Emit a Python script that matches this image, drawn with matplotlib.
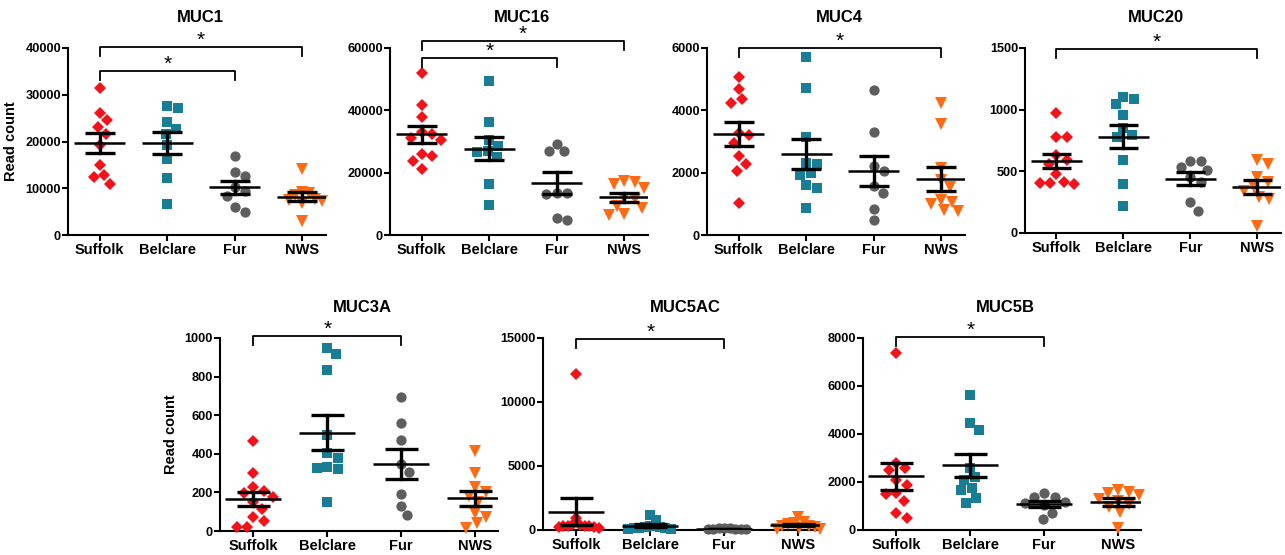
import matplotlib
matplotlib.use("Agg")
import matplotlib.pyplot as plt
import numpy as np

plt.rcParams['font.family'] = ['Liberation Sans', 'DejaVu Sans']
plt.rcParams['font.weight'] = 'bold'

groups = ["Suffolk", "Belclare", "Fur", "NWS"]
colors = ["#f2121a", "#1a7d96", "#5e5e5e", "#ff6a12"]
markers = ["D", "s", "o", "v"]
msizes = [6.0, 6.8, 7.4, 8.0]

# read counts per breed (Suffolk, Belclare, Fur, NWS)
muc1 = [
    [31500, 26100, 24500, 23200, 21500, 19300, 14900, 12800, 12300, 10900],
    [27600, 27100, 24200, 22700, 21700, 19200, 16200, 12200, 6600],
    [16800, 13500, 12700, 10200, 9500, 8400, 5900, 5000],
    [14100, 9300, 9000, 8600, 7800, 7400, 7200, 6900, 3100],
]
muc16 = [
    [52000, 41600, 37900, 32900, 32500, 31200, 30500, 26000, 25500, 23900, 21200],
    [49400, 36100, 30500, 28500, 27100, 26500, 25000, 16500, 9600],
    [29200, 26800, 26800, 13500, 13500, 13000, 4800, 5300],
    [17200, 17000, 16500, 15200, 11800, 11500, 9200, 8800, 6800, 6500],
]
muc4 = [
    [5060, 4680, 4350, 4230, 3270, 3220, 2950, 2520, 2280, 2060, 1020],
    [5710, 4720, 3160, 2300, 2270, 1980, 1930, 1610, 1500, 860],
    [4640, 3320, 2200, 2040, 1580, 1360, 830, 480],
    [4230, 3570, 2140, 1770, 1550, 1130, 1070, 1000, 800, 780],
]
muc20 = [
    [970, 775, 780, 630, 590, 562, 480, 405, 400, 405, 413],
    [1106, 1087, 1046, 957, 848, 793, 775, 590, 400, 215],
    [584, 584, 535, 508, 454, 413, 250, 182],
    [595, 562, 454, 413, 372, 340, 291, 272, 60],
]
muc3a = [
    [464, 299, 226, 209, 197, 174, 148, 113, 70, 52, 23, 23],
    [948, 917, 835, 496, 403, 377, 330, 322, 325, 148],
    [696, 557, 470, 348, 308, 191, 127, 82],
    [413, 300, 228, 200, 180, 150, 94, 73, 40, 16],
]
muc5ac = [
    [12180, 900, 420, 380, 350, 320, 300, 280, 250, 220, 180],
    [1170, 800, 300, 250, 220, 180, 150, 120, 100, 80],
    [150, 130, 120, 100, 90, 80, 60, 50],
    [1000, 600, 550, 450, 350, 300, 200, 150, 100, 80],
]
muc5b = [
    [7370, 2810, 2570, 2500, 2090, 1880, 1530, 1500, 1220, 695, 487],
    [5620, 4450, 4170, 2600, 2200, 2100, 1750, 1650, 1350, 1140],
    [1530, 1390, 1390, 1180, 1110, 1040, 695, 445],
    [1650, 1600, 1550, 1450, 1300, 1200, 1100, 950, 750, 80],
]

# (title, data, yticks, brackets [(to group, bracket y)], axes px (left, top, bottom), group spacing px, y label)
panels = [
    ("MUC1", muc1, [0, 10000, 20000, 30000, 40000], [(3, 40300), (2, 35000)], (68, 48, 235), 67.5, True),
    ("MUC16", muc16, [0, 20000, 40000, 60000], [(3, 62100), (2, 56800)], (390, 48, 235), 67.5, False),
    ("MUC4", muc4, [0, 2000, 4000, 6000], [(3, 6000)], (707, 48, 235), 67.5, False),
    ("MUC20", muc20, [0, 500, 1000, 1500], [(3, 1490)], (1025, 48, 233), 67.0, False),
    ("MUC3A", muc3a, [0, 200, 400, 600, 800, 1000], [(2, 1010)], (220, 338, 531), 74.0, True),
    ("MUC5AC", muc5ac, [0, 5000, 10000, 15000], [(2, 14900)], (543, 338, 530), 74.0, False),
    ("MUC5B", muc5b, [0, 2000, 4000, 6000, 8000], [(2, 8030)], (863, 338, 530), 74.0, False),
]

W, H = 1285, 555
fig = plt.figure(figsize=(W / 100, H / 100), dpi=100)


def swarm_offsets(ax, vals, center, dist=10.5, step=1.5, cap=0.3):
    vals = np.asarray(vals, dtype=float)
    pts = ax.transData.transform(np.column_stack([np.full(len(vals), center), vals]))
    ys = pts[:, 1]
    unit = ax.transData.transform((1, 0))[0] - ax.transData.transform((0, 0))[0]
    placed = []
    offs = np.zeros(len(vals))
    for i in np.argsort(-vals):
        k = 0
        while True:
            cands = [0.0] if k == 0 else [k * step, -k * step]
            ok = None
            for c in cands:
                if all((c - px) ** 2 + (ys[i] - py) ** 2 >= dist ** 2 for px, py in placed):
                    ok = c
                    break
            if ok is not None:
                placed.append((ok, ys[i]))
                offs[i] = ok / unit
                break
            k += 1
    big = np.abs(offs).max()
    if big > cap:
        offs = offs * cap / big
    return offs


for title, data, yticks, brackets, (left, top, bottom), sp, ylab in panels:
    xl = (-(0.47 if top < 100 else 0.45), 3.35 if top < 100 else 3.3)
    width = (xl[1] - xl[0]) * sp
    ax = fig.add_axes([left / W, 1 - bottom / H, width / W, (bottom - top) / H])
    ax.set_xlim(*xl)
    ymax = yticks[-1]
    ax.set_ylim(0, ymax)
    ax.set_yticks(yticks)
    ax.set_yticklabels([str(t) for t in yticks], fontsize=9.2, fontweight='bold')
    ax.set_xticks(range(4))
    ax.set_xticklabels(groups, fontsize=10.5, fontweight='bold')
    for s in ["top", "right"]:
        ax.spines[s].set_visible(False)
    for s in ["left", "bottom"]:
        ax.spines[s].set_linewidth(1.5)
    ax.tick_params(axis='y', length=4, width=1.5, pad=1)
    ax.tick_params(axis='x', length=4, width=1.5, pad=2)
    if ylab:
        ax.set_ylabel("Read count", fontsize=10.5, fontweight='bold', labelpad=5)

    for g, vals in enumerate(data):
        offs = swarm_offsets(ax, vals, g)
        ax.plot(g + offs, vals, linestyle='none', marker=markers[g], markersize=msizes[g],
                color=colors[g], markeredgewidth=0, clip_on=False, zorder=3)
        m = np.mean(vals)
        sem = np.std(vals, ddof=1) / np.sqrt(len(vals))
        ax.plot([g - 0.38, g + 0.38], [m, m], color='black', lw=1.8, zorder=4, solid_capstyle='butt')
        ax.plot([g, g], [m - sem, m + sem], color='black', lw=2.4, zorder=4)
        for yy in (m - sem, m + sem):
            ax.plot([g - 0.22, g + 0.22], [yy, yy], color='black', lw=2.4, zorder=4, solid_capstyle='butt')

    # significance brackets
    px_h = bottom - top
    drop = 9 * ymax / px_h
    for j, yb in brackets:
        ax.plot([0, 0, j, j], [yb - drop, yb, yb, yb - drop], color='black', lw=1.3,
                clip_on=False, zorder=5)
        ax.annotate("*", (j / 2, yb), xytext=(0, -2), textcoords='offset points',
                    ha='center', va='bottom', fontsize=15, fontweight='normal',
                    annotation_clip=False)

    ax.text(0.5 * (xl[0] + xl[1]) + 0.05, ymax * (1 + 30 / px_h), title, ha='center', va='center',
            fontsize=12, fontweight='bold', clip_on=False)

fig.savefig("out.png", dpi=100)
